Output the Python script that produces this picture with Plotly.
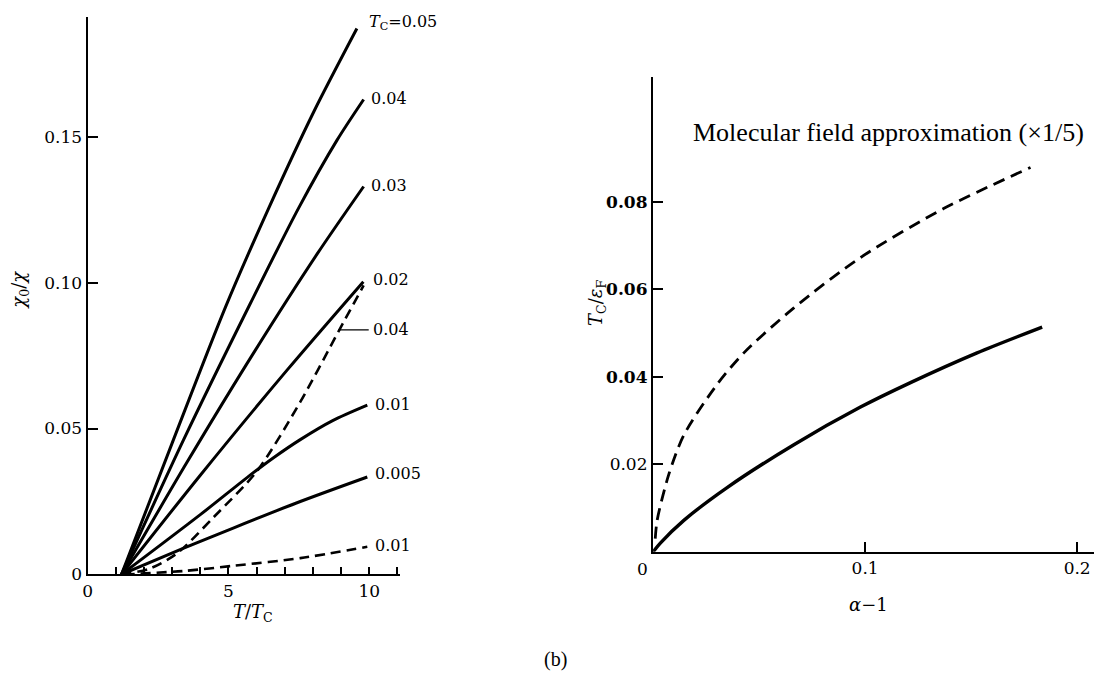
import plotly.graph_objects as go

W, H = 1112, 676
XOFF = 11  # horizontal page offset observed in the rendered picture

# ---------------- Left panel data: chi0/chi vs T/Tc ----------------
x_tc005 = [1.2, 3.0, 4.89, 6.43, 8.03, 9.56]
y_tc005 = [0.0, 0.0450, 0.0915, 0.1255, 0.1585, 0.187]

x_tc004 = [1.2, 3.4, 5.78, 7.49, 8.85, 9.8]
y_tc004 = [0.0, 0.046, 0.0929, 0.1255, 0.1487, 0.1627]

x_tc003 = [1.2, 3.5, 5.9, 8.15, 9.8]
y_tc003 = [0.0, 0.038, 0.076, 0.1098, 0.1329]

x_tc002 = [1.2, 4.0, 7.08, 9.79]
y_tc002 = [0.0, 0.034, 0.070, 0.1003]

x_tc001 = [1.2, 4.0, 5.66, 6.6, 7.55, 8.7, 9.93]
y_tc001 = [0.0, 0.0205, 0.0332, 0.040, 0.0462, 0.0527, 0.058]

x_tc0005 = [1.2, 3.41, 5.19, 7.55, 9.93]
y_tc0005 = [0.0, 0.0090, 0.0160, 0.0250, 0.0334]

x_dash004 = [1.2, 2.2, 3.18, 4.48, 6.02, 7.55, 8.91, 9.8]
y_dash004 = [0.0, 0.002, 0.0073, 0.0197, 0.0355, 0.0591, 0.0833, 0.099]

x_dash001 = [1.3, 3.41, 5.19, 7.55, 9.93]
y_dash001 = [0.0, 0.0012, 0.0030, 0.0056, 0.0095]

left_solid = [(x_tc005, y_tc005), (x_tc004, y_tc004), (x_tc003, y_tc003),
              (x_tc002, y_tc002), (x_tc001, y_tc001), (x_tc0005, y_tc0005)]
left_dashed = [(x_dash004, y_dash004), (x_dash001, y_dash001)]

left_labels = ["<i>T</i><sub>C</sub>=0.05", "0.04", "0.03", "0.02", "0.04", "0.01", "0.005", "0.01"]
left_label_x = [9.93, 10.0, 10.0, 10.07, 10.07, 10.12, 10.12, 10.12]
left_label_y = [0.189, 0.1632, 0.1334, 0.101, 0.0838, 0.0581, 0.0345, 0.0098]

left_xticks = [0, 5, 10]
left_xticktext = ["0", "5", "10"]
left_yticks = [0, 0.05, 0.10, 0.15]
left_yticktext = ["0", "0.05", "0.10", "0.15"]

# ---------------- Right panel data: Tc/eF vs alpha-1 ----------------
x_solid_r = [0.0, 0.0034, 0.0145, 0.0349, 0.0664, 0.0978, 0.1214, 0.1528, 0.1835]
y_solid_r = [0.0, 0.002, 0.0072, 0.0147, 0.0245, 0.0331, 0.0387, 0.0455, 0.0514]

x_mfa_r = [0.001, 0.0019, 0.0074, 0.0145, 0.0302, 0.0428, 0.0664, 0.0978, 0.137, 0.178]
y_mfa_r = [0.003, 0.0072, 0.0177, 0.0267, 0.0383, 0.0455, 0.0558, 0.0673, 0.0785, 0.0879]

right_xticks = [0.1, 0.2]
right_xticktext = ["0.1", "0.2"]
right_yticks = [0.02, 0.04, 0.06, 0.08]
right_yticktext = ["0.02", "<b>0.04</b>", "<b>0.06</b>", "<b>0.08</b>"]

TICKFONT = "DejaVu Serif"
SERIF = "Liberation Serif"


def px(x):
    return (x - XOFF) / W


def py(y):
    return 1 - y / H


fig = go.Figure()

for xs, ys in left_solid:
    fig.add_trace(go.Scatter(x=xs, y=ys, mode="lines",
                             line=dict(color="black", width=3, shape="spline", smoothing=0.8),
                             xaxis="x", yaxis="y", showlegend=False, hoverinfo="skip"))
for xs, ys in left_dashed:
    fig.add_trace(go.Scatter(x=xs, y=ys, mode="lines",
                             line=dict(color="black", width=2.6, dash="10px,6px", shape="spline", smoothing=0.8),
                             xaxis="x", yaxis="y", showlegend=False, hoverinfo="skip"))

fig.add_trace(go.Scatter(x=x_solid_r, y=y_solid_r, mode="lines",
                         line=dict(color="black", width=3.4, shape="spline", smoothing=0.8),
                         xaxis="x2", yaxis="y2", showlegend=False, hoverinfo="skip"))
fig.add_trace(go.Scatter(x=x_mfa_r, y=y_mfa_r, mode="lines",
                         line=dict(color="black", width=2.8, dash="12px,7px", shape="spline", smoothing=0.8),
                         xaxis="x2", yaxis="y2", showlegend=False, hoverinfo="skip"))

annotations = []
for t, lx, ly in zip(left_labels, left_label_x, left_label_y):
    annotations.append(dict(text=t, x=lx, y=ly, xref="x", yref="y", xanchor="left", yanchor="middle",
                            showarrow=False, font=dict(family=TICKFONT, size=16, color="black")))

# leader line for the dashed 0.04 label
shapes = [dict(type="line", xref="x", yref="y", x0=8.9, x1=9.98, y0=0.0838, y1=0.0838,
               line=dict(color="black", width=1.3))]


def ptext(text, x, y, size, family=SERIF, angle=0, xanchor="center"):
    return dict(text=text, x=px(x), y=py(y), xref="paper", yref="paper",
                xanchor=xanchor, yanchor="middle", showarrow=False, textangle=angle,
                font=dict(family=family, size=size, color="black"))


annotations += [
    ptext("<i>T</i>/<i>T</i><sub>C</sub>", 252, 614, 18, TICKFONT),
    ptext("<i>χ</i><sub>0</sub>/<i>χ</i>", 18, 286, 18, TICKFONT, angle=-90),
    ptext("<i>α</i>−1", 870, 605, 18, TICKFONT),
    ptext("<i>T</i><sub>C</sub>/<i>ε</i><sub>F</sub>", 597, 299, 18, TICKFONT, angle=-90),
    ptext("0", 643, 569, 17, TICKFONT),
    ptext("Molecular field approximation (×1/5)", 692, 126, 26, SERIF, xanchor="left"),
    ptext("(b)", 556, 661, 20, SERIF),
]

axis_common = dict(showline=True, linecolor="black", linewidth=2.4, showgrid=False, zeroline=False,
                   ticks="inside", tickcolor="black", tickwidth=2,
                   tickfont=dict(family=TICKFONT, size=17, color="black"))

fig.update_layout(
    width=W, height=H, autosize=False,
    margin=dict(l=0, r=0, t=0, b=0),
    paper_bgcolor="white", plot_bgcolor="white",
    showlegend=False,
    xaxis=dict(axis_common, domain=[px(86), px(400)], range=[0, 11.1], anchor="y",
               tickvals=left_xticks, ticktext=left_xticktext, ticklen=7,
               minor=dict(dtick=1, tick0=0, ticks="inside", ticklen=7, tickcolor="black", tickwidth=1.6)),
    yaxis=dict(axis_common, domain=[py(575), py(9)], range=[0, 0.191], anchor="x",
               tickvals=left_yticks, ticktext=left_yticktext, ticklen=10),
    xaxis2=dict(axis_common, domain=[px(654), px(1097)], range=[0, 0.208], anchor="y2",
                tickvals=right_xticks, ticktext=right_xticktext, ticklen=10),
    yaxis2=dict(axis_common, domain=[py(552), py(70)], range=[0, 0.1086], anchor="x2",
                tickvals=right_yticks, ticktext=right_yticktext, ticklen=10),
    annotations=annotations,
    shapes=shapes,
)

fig.write_html("out.html")
